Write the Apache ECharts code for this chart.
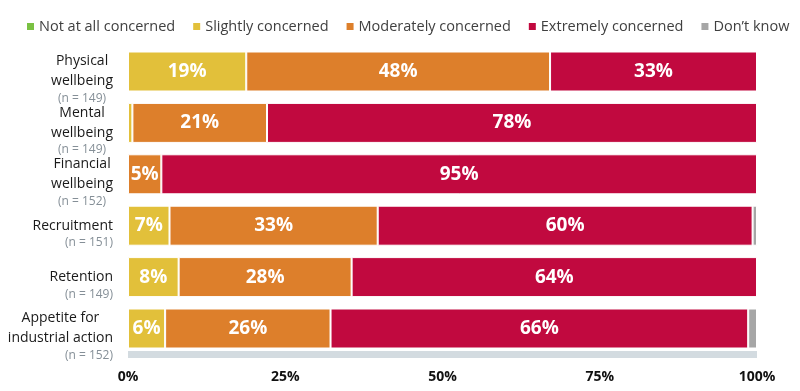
<!DOCTYPE html>
<html><head><meta charset="utf-8">
<script src="https://cdn.jsdelivr.net/npm/echarts@6/dist/echarts.min.js"></script>
<style>html,body{margin:0;padding:0;background:#fff}#c{width:800px;height:391px}</style>
</head><body><div id="c"></div>
<script>
const categories = ['Physical wellbeing','Mental wellbeing','Financial wellbeing','Recruitment','Retention','Appetite for industrial action'];
const sampleSizes = [149,149,152,151,149,152];
const seriesNames = ['Not at all concerned','Slightly concerned','Moderately concerned','Extremely concerned','Don\u2019t know'];
const notAtAll   = [0, 0, 0, 0, 0, 0];
const slightly   = [18.8, 0.7, 0, 6.6, 8.05, 5.9];
const moderately = [48.3, 21.4, 5.3, 33.1, 27.5, 26.3];
const extremely  = [32.9, 77.9, 94.7, 59.6, 64.45, 66.4];
const dontKnow   = [0, 0, 0, 0.7, 0, 1.4];
const xTicks = [0, 25, 50, 75, 100];

const colors = ['#7AC143','#E2C03A','#DD7F2B','#C1093F','#A6A6A6'];
const values = [notAtAll, slightly, moderately, extremely, dontKnow];

const labelLines = {
  'Physical wellbeing': {lines:['Physical','wellbeing'], nAlign:'c'},
  'Mental wellbeing': {lines:['Mental','wellbeing'], nAlign:'c'},
  'Financial wellbeing': {lines:['Financial','wellbeing'], nAlign:'c'},
  'Recruitment': {lines:['Recruitment'], nAlign:'r'},
  'Retention': {lines:['Retention'], nAlign:'r'},
  'Appetite for industrial action': {lines:['Appetite for','industrial action'], nAlign:'r'}
};

const chart = echarts.init(document.getElementById('c'));
const FONT = 'Open Sans';
chart.setOption({
  animation: false,
  color: colors,
  legend: {
    top: 14, left: 20,
    itemWidth: 9, itemHeight: 9, itemGap: 16,
    icon: 'rect',
    textStyle: {fontFamily: FONT, fontSize: 14.5, color: '#404040', padding:[0,0,0,-1]},
    data: seriesNames
  },
  grid: {left: 128, right: 43, top: 45.8, bottom: 36.8, containLabel: false},
  xAxis: {
    type: 'value', min: 0, max: 100, interval: 25,
    axisLine: {show: true, lineStyle: {color: '#D3DBE0', width: 7, cap: 'butt'}},
    axisTick: {show: false},
    splitLine: {show: false},
    axisLabel: {margin: 16, formatter: v => xTicks.includes(v) ? v + '%' : '', fontFamily: FONT, fontWeight: 'bold', fontSize: 14, color: '#111'}
  },
  yAxis: {
    type: 'category', inverse: true, data: categories,
    axisLine: {show: false}, axisTick: {show: false},
    axisLabel: {
      margin: 15, interval: 0, hideOverlap: false,
      formatter: (v, i) => {
        const d = labelLines[v];
        const parts = ['{pad|}'];
        d.lines.forEach(l => parts.push('{nm|' + l + '}'));
        parts.push('{' + (d.nAlign === 'c' ? 'nc' : 'nr') + '|(n = ' + sampleSizes[i] + ')}');
        return parts.join('\n');
      },
      rich: {
        pad: {height: 14, lineHeight: 14, fontSize: 12},
        nm: {fontFamily: FONT, fontSize: 14, lineHeight: 20, color: '#1a1a1a', align: 'center'},
        nc: {fontFamily: FONT, fontSize: 12, lineHeight: 14, color: '#858f97', align: 'center'},
        nr: {fontFamily: FONT, fontSize: 12, lineHeight: 14, color: '#858f97', align: 'right'}
      }
    }
  },
  series: seriesNames.map((name, si) => ({
    name, type: 'bar', stack: 'total', barWidth: 40,
    data: values[si],
    itemStyle: {borderColor: '#fff', borderWidth: 1},
    label: {
      show: true, position: 'inside', color: '#fff',
      fontFamily: FONT, fontWeight: 'bold', fontSize: 19,
      formatter: p => p.value >= 3 ? Math.round(p.value) + '%' : ''
    }
  }))
});
</script></body></html>
